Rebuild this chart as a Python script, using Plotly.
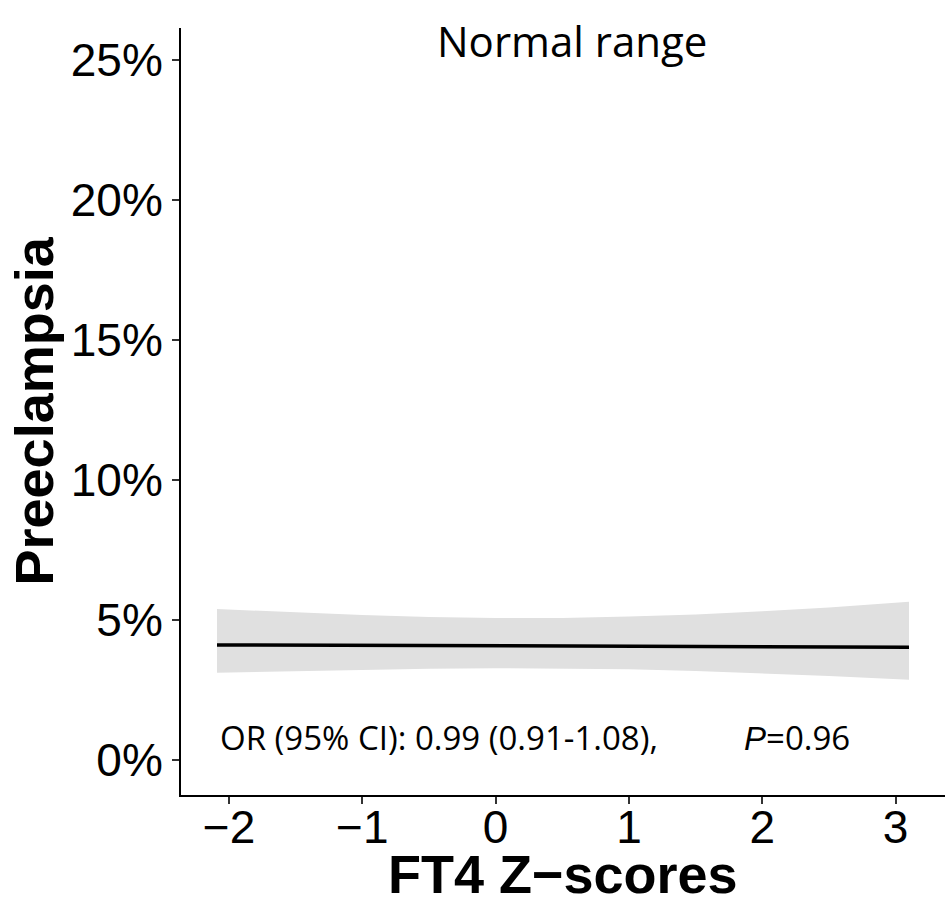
import plotly.graph_objects as go

# Data (percent)
z_scores = [-2.09, -1.5, -1.0, -0.5, 0.0, 0.5, 1.0, 1.5, 2.0, 2.5, 3.10]
fit = [4.11, 4.10, 4.09, 4.09, 4.08, 4.07, 4.06, 4.06, 4.05, 4.04, 4.03]
ci_upper = [5.39, 5.27, 5.18, 5.11, 5.07, 5.07, 5.12, 5.20, 5.31, 5.45, 5.65]
ci_lower = [3.12, 3.18, 3.23, 3.26, 3.28, 3.27, 3.24, 3.18, 3.10, 3.00, 2.87]

x_ticks = [-2, -1, 0, 1, 2, 3]
y_ticks = [0, 5, 10, 15, 20, 25]
y_labels = ["0%", "5%", "10%", "15%", "20%", "25%"]

fig = go.Figure()
fig.add_trace(go.Scatter(x=z_scores, y=ci_upper, mode="lines", line=dict(width=0),
                         hoverinfo="skip", showlegend=False))
fig.add_trace(go.Scatter(x=z_scores, y=ci_lower, mode="lines", line=dict(width=0),
                         fill="tonexty", fillcolor="#e0e0e0", hoverinfo="skip", showlegend=False))
fig.add_trace(go.Scatter(x=z_scores, y=fit, mode="lines",
                         line=dict(color="black", width=3.5), showlegend=False))

axis_common = dict(showgrid=False, zeroline=False, showline=True, linecolor="black", linewidth=2,
                   ticks="outside", ticklen=7, tickwidth=2, tickcolor="#333333",
                   tickfont=dict(family="Liberation Sans, Arial", size=46, color="black"))

fig.update_layout(
    width=945, height=906,
    margin=dict(l=181, r=0, t=28, b=111),
    paper_bgcolor="white", plot_bgcolor="white",
    xaxis=dict(range=[-2.36, 3.37], tickvals=x_ticks, ticklabelstandoff=-16, **axis_common),
    yaxis=dict(range=[-1.25, 26.14], tickvals=y_ticks, ticktext=y_labels, **axis_common),
    annotations=[
        dict(text="Normal range", xref="paper", yref="paper", x=(572 - 181) / 764, y=1,
             yshift=-12, xanchor="center", yanchor="middle", showarrow=False,
             font=dict(family="Open Sans", size=42, color="black")),
        dict(text="OR (95% CI): 0.99 (0.91-1.08),", xref="x", yref="y", x=-2.08, y=0.82,
             xanchor="left", yanchor="middle", showarrow=False,
             font=dict(family="Open Sans", size=33, color="black")),
        dict(text="<span style='font-family:Liberation Sans'><i>P</i></span>=0.96", xref="x", yref="y",
             x=1.845, y=0.82, xanchor="left", yanchor="middle", showarrow=False,
             font=dict(family="Open Sans", size=33, color="black")),
        dict(text="<b>FT4 Z\u2212scores</b>", xref="paper", yref="paper", x=0.5, y=0,
             yshift=-79, xanchor="center", yanchor="middle", showarrow=False,
             font=dict(family="Liberation Sans, Arial", size=54, color="black")),
        dict(text="<b>Preeclampsia</b>", xref="paper", yref="paper", x=0, y=0.5,
             xshift=-148, xanchor="center", yanchor="middle", textangle=-90, showarrow=False,
             font=dict(family="Liberation Sans, Arial", size=54, color="black")),
    ],
)

fig.write_html("out.html")
